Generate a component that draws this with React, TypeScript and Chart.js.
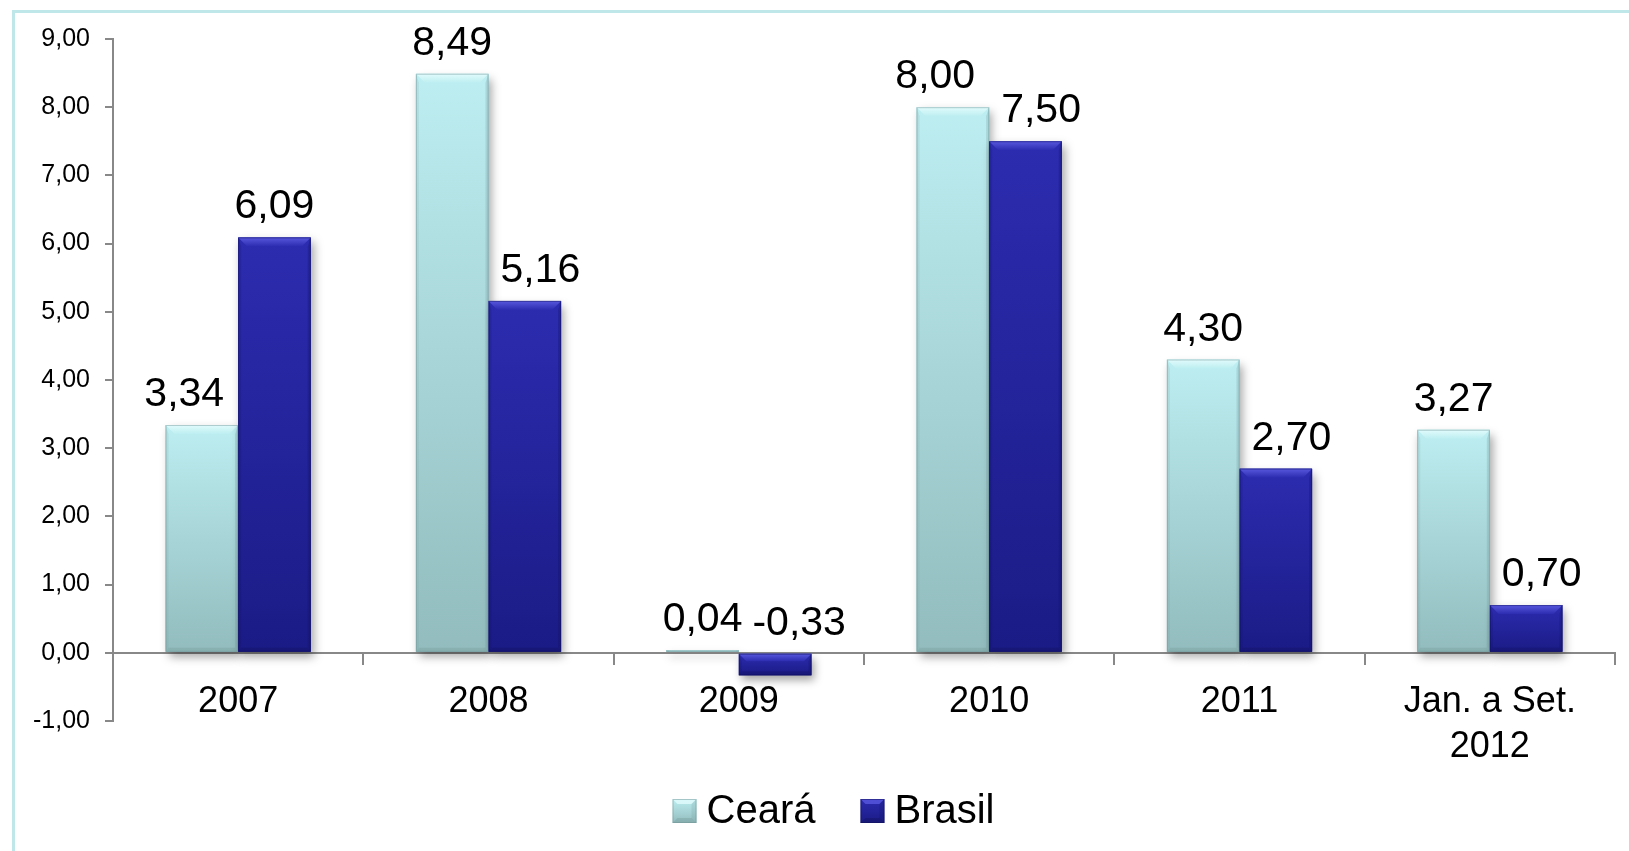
import { useEffect, useRef } from 'react';
import { Chart, registerables } from 'chart.js';

Chart.register(...registerables);

const categories: (string | string[])[] = ['2007', '2008', '2009', '2010', '2011', ['Jan. a Set.', '2012']];
const seriesNames = ['Ceará', 'Brasil'];
const cearaValues = [3.34, 8.49, 0.04, 8.0, 4.3, 3.27];
const brasilValues = [6.09, 5.16, -0.33, 7.5, 2.7, 0.7];
const yMin = -1;
const yMax = 9;
const yStep = 1;

const FONT = 'Liberation Sans, Arial, Helvetica, sans-serif';

type Palette = { top: string; bottom: string; bevel: string; edge: string; base: string };
const palettes: Palette[] = [
  { top: '#bdeef1', bottom: '#92bcbe', bevel: '#e2fbfc', edge: '#6f9496', base: '#a8d6d9' },
  { top: '#2c2cb0', bottom: '#1b1b86', bevel: '#5858de', edge: '#10105a', base: '#23239a' },
];

const fmt = (v: number) => v.toFixed(2).replace('.', ',');

function drawBevelRect(ctx: CanvasRenderingContext2D, left: number, top: number, w: number, h: number, p: Palette, shadow: boolean) {
  if (h <= 0 || w <= 0) return;
  const right = left + w;
  const bottom = top + h;
  const g = ctx.createLinearGradient(0, top, 0, bottom);
  g.addColorStop(0, p.top);
  g.addColorStop(1, p.bottom);
  ctx.save();
  if (shadow) {
    ctx.shadowColor = 'rgba(0,0,0,0.35)';
    ctx.shadowBlur = 9;
    ctx.shadowOffsetX = 3;
    ctx.shadowOffsetY = 5;
  }
  ctx.fillStyle = g;
  ctx.fillRect(left, top, w, h);
  ctx.restore();

  const bt = Math.min(9, h * 0.35);
  const bs = Math.min(3, w * 0.1);
  const bb = Math.min(4, h * 0.2);
  ctx.save();
  const tg = ctx.createLinearGradient(0, top, 0, top + bt);
  tg.addColorStop(0, p.bevel);
  tg.addColorStop(1, p.top);
  ctx.fillStyle = tg;
  ctx.beginPath();
  ctx.moveTo(left, top);
  ctx.lineTo(right, top);
  ctx.lineTo(right - Math.min(bt, w / 2), top + bt);
  ctx.lineTo(left + Math.min(bt, w / 2), top + bt);
  ctx.closePath();
  ctx.fill();
  ctx.globalAlpha = 0.25;
  ctx.fillStyle = p.edge;
  ctx.beginPath();
  ctx.moveTo(right, top);
  ctx.lineTo(right, bottom);
  ctx.lineTo(right - bs, bottom - bb);
  ctx.lineTo(right - bs, top + bt);
  ctx.closePath();
  ctx.fill();
  ctx.globalAlpha = 0.15;
  ctx.beginPath();
  ctx.moveTo(left, top);
  ctx.lineTo(left, bottom);
  ctx.lineTo(left + bs, bottom - bb);
  ctx.lineTo(left + bs, top + bt);
  ctx.closePath();
  ctx.fill();
  ctx.globalAlpha = 0.3;
  ctx.beginPath();
  ctx.moveTo(left, bottom);
  ctx.lineTo(right, bottom);
  ctx.lineTo(right - bs, bottom - bb);
  ctx.lineTo(left + bs, bottom - bb);
  ctx.closePath();
  ctx.fill();
  ctx.globalAlpha = 0.45;
  ctx.strokeStyle = p.edge;
  ctx.lineWidth = 1;
  ctx.strokeRect(left + 0.5, top + 0.5, w - 1, h - 1);
  ctx.restore();
}

const bevelBarsPlugin = {
  id: 'bevelBars',
  afterDatasetsDraw(chart: any) {
    const ctx: CanvasRenderingContext2D = chart.ctx;
    chart.data.datasets.forEach((_ds: any, di: number) => {
      const meta = chart.getDatasetMeta(di);
      meta.data.forEach((el: any) => {
        const { x, y, base, width } = el.getProps(['x', 'y', 'base', 'width'], true);
        const top = Math.min(y, base);
        const h = Math.abs(base - y);
        drawBevelRect(ctx, x - width / 2, top, width, h, palettes[di], true);
      });
    });
  },
};

const valueLabelsPlugin = {
  id: 'valueLabels',
  afterDatasetsDraw(chart: any) {
    const ctx: CanvasRenderingContext2D = chart.ctx;
    const size = 41;
    const cap = size * 0.716;
    const above = 19;
    ctx.save();
    ctx.font = `${size}px ${FONT}`;
    ctx.fillStyle = '#000';
    ctx.textBaseline = 'alphabetic';
    ctx.textAlign = 'left';
    const n = chart.data.labels.length;
    for (let i = 0; i < n; i++) {
      const items = chart.data.datasets.map((ds: any, di: number) => {
        const el = chart.getDatasetMeta(di).data[i];
        const { x, y, base, width } = el.getProps(['x', 'y', 'base', 'width'], true);
        const text = fmt(ds.data[i]);
        const w = ctx.measureText(text).width;
        const barTop = Math.min(y, base);
        const baseline = barTop - above;
        return { text, w, left: x - w / 2, baseline, barTop, barLeft: x - width / 2, barRight: x + width / 2, barBottom: Math.max(y, base) };
      });
      if (items.length === 2) {
        const [a, b] = items;
        const sameRow = Math.abs(a.baseline - b.baseline) < cap;
        if (sameRow) {
          if (a.left + a.w + 10 > b.left) b.left = a.left + a.w + 10;
        } else {
          // second label clashing with the first series' taller bar: push right
          if (b.left < a.barRight && b.baseline > a.barTop) b.left = a.barRight + 12;
          // first label clashing with the second series' label/bar column: push left
          const obsLeft = Math.min(b.barLeft, b.left);
          const obsRight = Math.max(b.barRight, b.left + b.w);
          const obsTop = b.baseline - cap;
          const aTop = a.baseline - cap - 6;
          const aBottom = a.baseline + 6;
          const hOverlap = a.left + a.w > obsLeft && a.left < obsRight;
          const vOverlap = aBottom > obsTop && aTop < b.barBottom;
          if (hOverlap && vOverlap) a.left = a.barRight - 14 - a.w;
        }
      }
      items.forEach((it: any) => ctx.fillText(it.text, it.left, it.baseline));
    }
    ctx.restore();
  },
};

const legendPlugin = {
  id: 'customLegend',
  afterDraw(chart: any) {
    const ctx: CanvasRenderingContext2D = chart.ctx;
    const area = chart.chartArea;
    ctx.save();
    ctx.font = `40px ${FONT}`;
    const box = 24;
    const gap = 10;
    const itemGap = 45;
    const names: string[] = chart.data.datasets.map((d: any) => d.label);
    const widths = names.map((nm) => ctx.measureText(nm).width);
    const total = widths.reduce((a, w) => a + box + gap + w, 0) + itemGap * (names.length - 1);
    const cx = (area.left + area.right) / 2 - 30.5;
    const cy = area.bottom + 90;
    let x = cx - total / 2;
    names.forEach((nm, i) => {
      const p = palettes[i];
      const bx = x;
      const by = cy - box / 2;
      const g = ctx.createLinearGradient(0, by, 0, by + box);
      g.addColorStop(0, p.top);
      g.addColorStop(1, p.bottom);
      ctx.fillStyle = g;
      ctx.fillRect(bx, by, box, box);
      const b = 5;
      ctx.globalAlpha = 0.8;
      ctx.fillStyle = p.bevel;
      ctx.beginPath();
      ctx.moveTo(bx, by); ctx.lineTo(bx + box, by); ctx.lineTo(bx + box - b, by + b); ctx.lineTo(bx + b, by + b); ctx.closePath(); ctx.fill();
      ctx.globalAlpha = 0.35;
      ctx.fillStyle = p.edge;
      ctx.beginPath();
      ctx.moveTo(bx, by + box); ctx.lineTo(bx + box, by + box); ctx.lineTo(bx + box - b, by + box - b); ctx.lineTo(bx + b, by + box - b); ctx.closePath(); ctx.fill();
      ctx.globalAlpha = 0.2;
      ctx.beginPath();
      ctx.moveTo(bx + box, by); ctx.lineTo(bx + box, by + box); ctx.lineTo(bx + box - b, by + box - b); ctx.lineTo(bx + box - b, by + b); ctx.closePath(); ctx.fill();
      ctx.globalAlpha = 0.5;
      ctx.strokeStyle = p.edge;
      ctx.lineWidth = 1;
      ctx.strokeRect(bx + 0.5, by + 0.5, box - 1, box - 1);
      ctx.globalAlpha = 1;
      ctx.fillStyle = '#000';
      ctx.textBaseline = 'middle';
      ctx.textAlign = 'left';
      ctx.fillText(nm, bx + box + gap, cy + 1);
      x += box + gap + widths[i] + itemGap;
    });
    ctx.restore();
  },
};

export default function App() {
  const canvasRef = useRef<HTMLCanvasElement | null>(null);

  useEffect(() => {
    if (!canvasRef.current) return;
    const chart = new Chart(canvasRef.current, {
      type: 'bar',
      data: {
        labels: categories,
        datasets: [
          { label: seriesNames[0], data: cearaValues, backgroundColor: palettes[0].base, borderWidth: 0 },
          { label: seriesNames[1], data: brasilValues, backgroundColor: palettes[1].base, borderWidth: 0 },
        ],
      },
      options: {
        responsive: false,
        animation: false,
        events: [],
        layout: { padding: { top: 39, right: 14, bottom: 130, left: 0 } },
        datasets: { bar: { categoryPercentage: 0.58, barPercentage: 1.0 } },
        plugins: { legend: { display: false }, tooltip: { enabled: false } },
        scales: {
          x: {
            type: 'category',
            position: { y: 0 } as any,
            offset: true,
            grid: { display: true, drawOnChartArea: false, drawTicks: true, tickLength: 11, color: '#888888', lineWidth: 2, offset: true },
            border: { display: true, color: '#888888', width: 2 },
            ticks: { color: '#000', font: { size: 36, family: FONT, lineHeight: 1.25 }, padding: 16, maxRotation: 0, autoSkip: false },
          },
          y: {
            min: yMin,
            max: yMax,
            ticks: {
              stepSize: yStep,
              color: '#000',
              font: { size: 25, family: FONT },
              padding: 15,
              callback: (v: any) => fmt(Number(v)),
            },
            grid: { display: true, drawOnChartArea: false, drawTicks: true, tickLength: 8, color: '#888888', lineWidth: 2 },
            border: { display: true, color: '#888888', width: 2 },
            afterFit: (s: any) => { s.width = 113; },
          },
        },
      },
      plugins: [bevelBarsPlugin, valueLabelsPlugin, legendPlugin],
    });
    return () => chart.destroy();
  }, []);

  return (
    <div style={{ position: 'fixed', left: 0, top: 0, width: 1629, height: 851, overflow: 'hidden', background: '#fff' }}>
      <div style={{ position: 'absolute', left: 12, top: 10, width: 1700, height: 900, borderLeft: '3px solid #bfe6e9', borderTop: '3px solid #bfe6e9' }} />
      <canvas ref={canvasRef} width={1629} height={851} style={{ position: 'absolute', left: 0, top: 0, width: 1629, height: 851 }} />
    </div>
  );
}
